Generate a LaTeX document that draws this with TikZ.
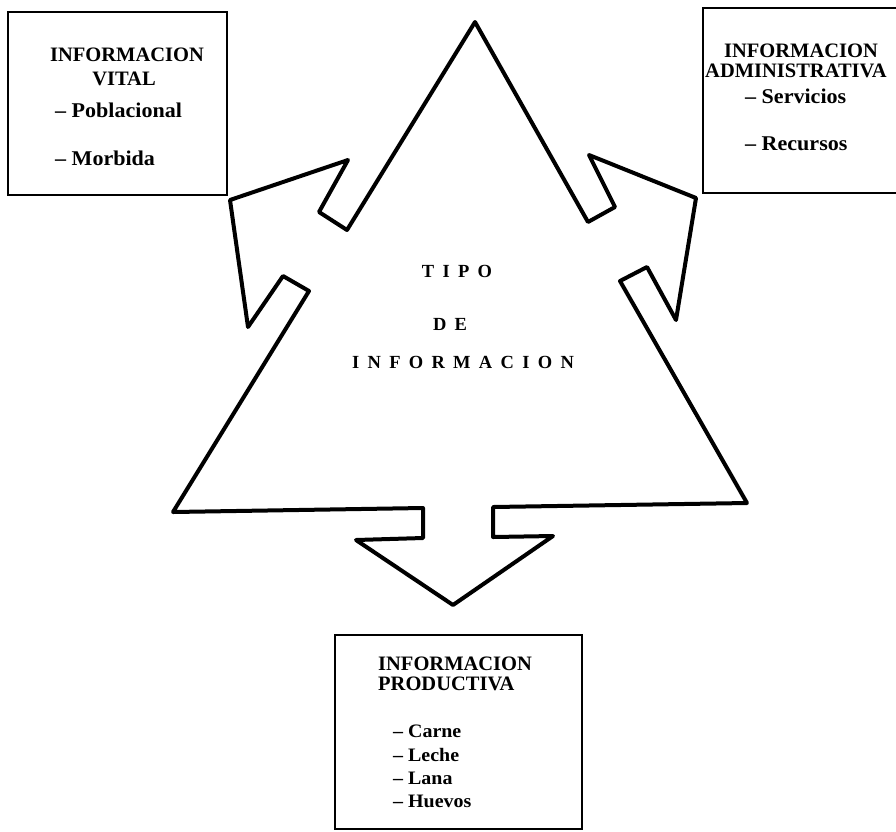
\documentclass[tikz,border=0pt]{standalone}
\usepackage{fontspec}
\setmainfont{Liberation Serif}
\newfontfamily\itemfont[FakeStretch=1.05, Ligatures=TeX]{Liberation Serif}
\newcommand\lsp{\kern8.3pt}
\begin{document}
\begin{tikzpicture}[x=1pt, y=-1pt,
  outline/.style={line width=4pt, line join=round},
  infobox/.style={line width=2pt},
  headtxt/.style={font=\fontsize{20.5}{24}\selectfont\bfseries, inner sep=0pt},
  itemtxt/.style={font=\itemfont\fontsize{21}{24}\selectfont\bfseries, inner sep=0pt, anchor=base west},
  smallitem/.style={font=\itemfont\fontsize{19}{22}\selectfont\bfseries, inner sep=0pt, anchor=base west},
  centertxt/.style={font=\fontsize{18.5}{22}\selectfont\bfseries, inner sep=0pt, anchor=base}]
\useasboundingbox (0,0) rectangle (896,831);
\clip (0,0) rectangle (896,831);

% central triangle with its three arrows
\draw[outline] (475,22) -- (588,222) -- (615,207) -- (589,155) -- (696,198)
  -- (676,320) -- (647,267) -- (620,281) -- (747,503)
  -- (493,507) -- (493,537) -- (553,536) -- (453,605) -- (356,540)
  -- (423,538) -- (423,508) -- (173,512)
  -- (309,291) -- (283,276) -- (248,327) -- (230,200) -- (348,160)
  -- (319,212) -- (347,230) -- cycle;

\node[centertxt] (tipo) at (457,277) {T\lsp I\lsp P\lsp O};
\node[centertxt] (de) at (450,330) {D\lsp E};
\node[centertxt] (info) at (463,368) {I\lsp N\lsp F\lsp O\lsp R\lsp M\lsp A\lsp C\lsp I\lsp O\lsp N};

% vital information
\draw[infobox] (8,12) rectangle (227,195);
\node[headtxt, anchor=base] (vitA) at (127,61) {INFORMACION};
\node[headtxt, anchor=base] (vitB) at (124,85) {VITAL};
\node[itemtxt] (vit1) at (55,117) {– Poblacional};
\node[itemtxt] (vit2) at (55,165) {– Morbida};

% administrative information
\draw[infobox] (703,8) rectangle (910,193);
\node[headtxt, anchor=base] (admA) at (801,57) {INFORMACION};
\node[headtxt, anchor=base west] (admB) at (705,77) {ADMINISTRATIVA};
\node[itemtxt] (adm1) at (745,103) {– Servicios};
\node[itemtxt] (adm2) at (745,150) {– Recursos};

% productive information
\draw[infobox] (335,635) rectangle (582,829);
\node[headtxt, anchor=base west] (proA) at (378,670) {INFORMACION};
\node[headtxt, anchor=base west] (proB) at (378,690) {PRODUCTIVA};
\node[smallitem] (pro1) at (393,737) {– Carne};
\node[smallitem] (pro2) at (393,761) {– Leche};
\node[smallitem] (pro3) at (393,784) {– Lana};
\node[smallitem] (pro4) at (393,807) {– Huevos};
\end{tikzpicture}
\end{document}
